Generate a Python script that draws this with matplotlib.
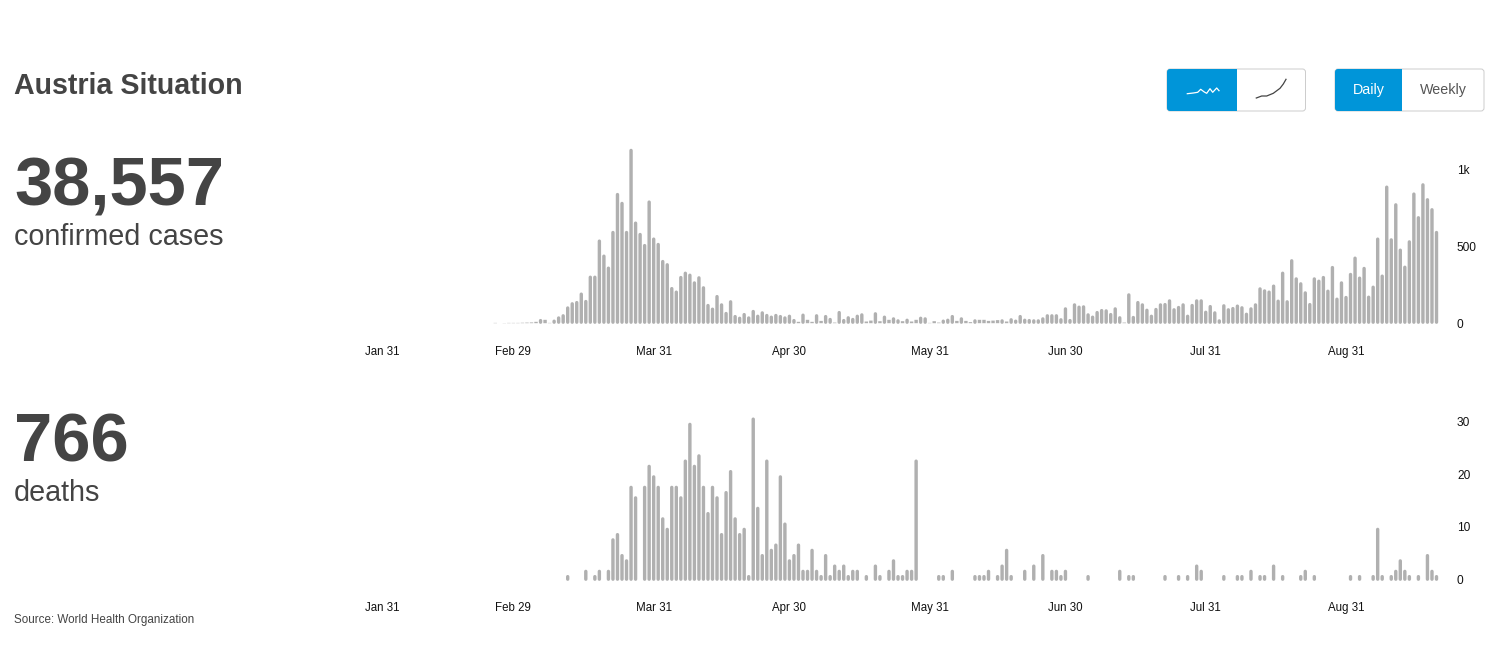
import matplotlib
matplotlib.use('Agg')
import matplotlib.pyplot as plt
import matplotlib.dates as mdates
import matplotlib.transforms as mtransforms
import numpy as np
import pandas as pd
from matplotlib.patches import FancyBboxPatch, Rectangle

plt.rcParams['font.family'] = ['Liberation Sans', 'DejaVu Sans']

# daily values, first bar is 25 Feb 2020
cases = [2, 0, 1, 2, 2, 2, 3, 4, 5, 9, 28, 22, 2, 24, 45, 59, 110, 137, 145,
         200, 152, 310, 310, 545, 447, 369, 601, 848, 790, 601, 1135, 662, 588, 516, 799, 558, 523, 412, 391,
         236, 213, 308, 336, 323, 273, 306, 241, 126, 102, 184, 130, 74, 150, 54, 43, 67, 45, 87, 56,
         78, 61, 50, 61, 54, 45, 56, 28, 9, 63, 22,
         9, 59, 15, 54, 35, 4, 80, 28, 46, 35, 56, 65, 11, 17, 72, 13, 50, 22, 39,
         26, 13, 30, 11, 22, 43, 39, 2, 13, 4, 24, 30, 54, 15, 39, 15, 7, 26, 22, 22,
         15, 17, 20, 26, 11, 33, 24, 54, 30, 28, 26, 26, 39, 59, 59, 59, 33, 104, 28, 130,
         115, 117, 65, 50, 80, 93, 91, 67, 104, 46, 4, 195,
         48, 145, 130, 95, 56, 100, 130, 132, 156, 98, 113, 130, 56, 126, 156, 156, 82, 119, 78, 26,
         124, 98, 106, 122, 111, 69, 104, 130, 234, 221, 213, 252, 154, 336, 150, 417, 299, 267, 208, 132,
         299, 284, 308, 219, 373, 167, 273, 178, 328, 434, 304, 367, 180, 245, 558, 317, 896, 553, 781, 486,
         375, 540, 851, 697, 911, 814, 749, 601]
deaths = [0] * 16 + [1, 0, 0, 0, 2, 0, 1, 2, 0, 2, 8, 9, 5, 4, 18, 16, 0, 18, 22, 20,
          18, 12, 10, 18, 18, 16, 23, 30, 22, 24, 18, 13, 18, 16, 9, 17, 21, 12, 9, 10,
          1, 31, 14, 5, 23, 6, 7, 20, 11, 4, 5, 7, 2, 2, 6, 2, 1, 5, 1, 3,
          2, 3, 1, 2, 2, 0, 1, 0, 3, 1, 0, 2, 4, 1, 1, 2, 2, 23, 0, 0,
          0, 0, 1, 1, 0, 2, 0, 0, 0, 0, 1, 1, 1, 2, 0, 1, 3, 6, 1, 0,
          0, 2, 0, 3, 0, 5, 0, 2, 2, 1, 2, 0, 0, 0, 0, 1, 0, 0, 0, 0,
          0, 0, 2, 0, 1, 1, 0, 0, 0, 0, 0, 0, 1, 0, 0, 1, 0, 1, 0, 3,
          2, 0, 0, 0, 0, 1, 0, 0, 1, 1, 0, 2, 0, 1, 1, 0, 3, 0, 1, 0,
          0, 0, 1, 2, 0, 1, 0, 0, 0, 0, 0, 0, 0, 1, 0, 1, 0, 0, 1, 10,
          1, 0, 1, 2, 4, 2, 1, 0, 1, 0, 5, 2, 1]
dates = pd.date_range('2020-02-25', periods=len(cases))

tick_dates = pd.to_datetime(['2020-01-31', '2020-02-29', '2020-03-31', '2020-04-30',
                             '2020-05-31', '2020-06-30', '2020-07-31', '2020-08-31'])
tick_labels = ['Jan 31', 'Feb 29', 'Mar 31', 'Apr 30', 'May 31', 'Jun 30', 'Jul 31', 'Aug 31']
cases_ticks = [0, 500, 1000]
cases_tick_labels = ['0', '500', '1k']
deaths_ticks = [0, 10, 20, 30]
deaths_tick_labels = ['0', '10', '20', '30']

W, H = 1495, 649
BAR = '#b0b0b0'
TEXT = '#444444'
BLUE = '#0095d9'
PX_PER_DAY = 4.525
X_FIRST = 495.3
AX_LEFT, AX_RIGHT = 350, 1450


def bars(ax, values, px_per_unit):
    d = mdates.date2num(dates)
    v = np.array(values, dtype=float)
    lw_px = 3.4
    inset = lw_px / 2 / px_per_unit
    tall = v * px_per_unit >= lw_px
    small = (v > 0) & ~tall
    a = ax.vlines(d[tall], inset * 0.6, v[tall] - inset, color=BAR, linewidth=lw_px * 0.72, capstyle='round')
    b = ax.vlines(d[small], 0, v[small], color=BAR, linewidth=lw_px * 0.72, capstyle='butt')
    a.set_snap(False)
    b.set_snap(False)


def chart(values, top, bottom, base, px_per_unit, ticks, labels, nudge_px):
    ax = fig.add_axes([AX_LEFT / W, 1 - bottom / H, (AX_RIGHT - AX_LEFT) / W, (bottom - top) / H])
    bars(ax, values, px_per_unit)
    first = mdates.date2num(dates[0])
    ax.set_xlim(first + (AX_LEFT - X_FIRST) / PX_PER_DAY, first + (AX_RIGHT - X_FIRST) / PX_PER_DAY)
    ax.set_ylim(-(bottom - base) / px_per_unit, (base - top) / px_per_unit)
    ax.set_xticks(mdates.date2num(tick_dates))
    ax.set_xticklabels(tick_labels, fontsize=8.3, color='#111111')
    ax.set_yticks(ticks)
    ax.set_yticklabels(labels, fontsize=8.6, color='#111111')
    ax.yaxis.tick_right()
    ax.tick_params(axis='x', length=0, pad=7.7)
    ax.tick_params(axis='y', length=0, pad=5)
    nudge = mtransforms.ScaledTranslation(0, nudge_px / 100, fig.dpi_scale_trans)
    for lbl in ax.get_yticklabels():
        lbl.set_transform(lbl.get_transform() + nudge)
    for s in ax.spines.values():
        s.set_visible(False)
    ax.patch.set_alpha(0)
    return ax


def toggle(left, split, right, top, bottom):
    box = FancyBboxPatch((left + 3, top + 3), right - left - 6, bottom - top - 6,
                         boxstyle='round,pad=3', facecolor='white', edgecolor='#cccccc', linewidth=0.7)
    bg.add_patch(box)
    blue = Rectangle((left, top), split - left, bottom - top, facecolor=BLUE, edgecolor='none')
    bg.add_patch(blue)
    blue.set_clip_path(box)


fig = plt.figure(figsize=(W / 100, H / 100), dpi=100, facecolor='white')

bg = fig.add_axes([0, 0, 1, 1])
bg.set_xlim(0, W)
bg.set_ylim(H, 0)
bg.axis('off')

chart(cases, 140, 335, 323.2, 0.1537, cases_ticks, cases_tick_labels, 0)
chart(deaths, 410, 591, 580.2, 5.25, deaths_ticks, deaths_tick_labels, 1.2)

bg.text(14, 94, 'Austria Situation', fontsize=20.6, fontweight='bold', color=TEXT, va='baseline')
bg.text(14, 205, '38,557', fontsize=49.5, fontweight='bold', color=TEXT, va='baseline')
bg.text(14, 245, 'confirmed cases', fontsize=20.7, color=TEXT, va='baseline')
bg.text(14, 461, '766', fontsize=49.5, fontweight='bold', color=TEXT, va='baseline')
bg.text(14, 501, 'deaths', fontsize=20.7, color=TEXT, va='baseline')
bg.text(14, 620, 'Source: World Health Organization', fontsize=8.4, color=TEXT, va='center')

toggle(1167, 1237, 1305.5, 69, 111)
toggle(1335, 1402, 1484, 69, 111)
bg.text(1368.5, 90, 'Daily', fontsize=10.3, color='white', ha='center', va='center')
bg.text(1443, 90, 'Weekly', fontsize=10.3, color='#555555', ha='center', va='center')

wave_x = [1187.3, 1193.3, 1197.7, 1200.7, 1204.3, 1206.7, 1210, 1212.7, 1216.7, 1219]
wave_y = [93.7, 93, 92.3, 89.3, 92, 93.3, 88.7, 92.3, 88, 90.7]
curve_x = [1256.3, 1261.7, 1266.7, 1273.3, 1280, 1283.3, 1286]
curve_y = [98, 96, 96, 93.3, 88.3, 84, 79.3]
bg.plot(wave_x, wave_y, color='white', linewidth=0.9)
bg.plot(curve_x, curve_y, color='#444444', linewidth=0.9)

fig.savefig('out.png', dpi=100)
